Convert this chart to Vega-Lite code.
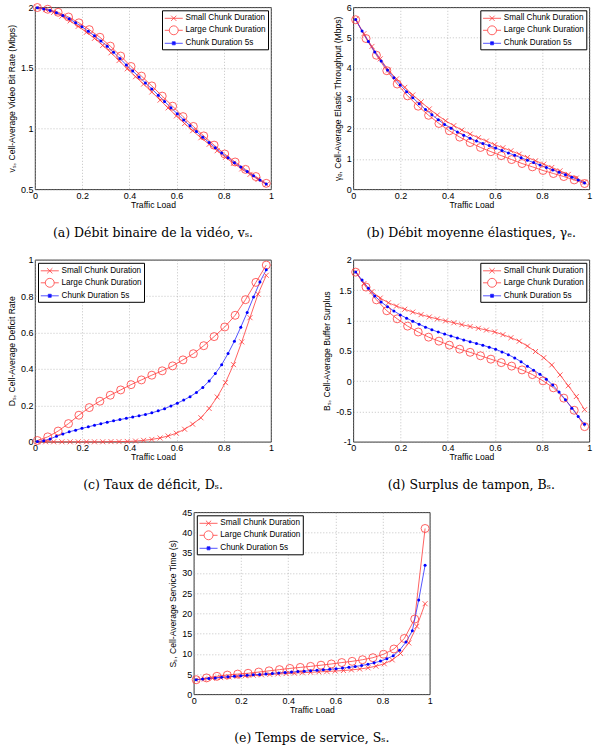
{
  "$schema": "https://vega.github.io/schema/vega-lite/v6.json",
  "padding": {"left": 7, "top": 1.3, "right": 0, "bottom": 0},
  "background": "white",
  "datasets": {
    "aS": [{"x":0.010,"y":1.996},{"x":0.045,"y":1.981},{"x":0.079,"y":1.958},{"x":0.114,"y":1.927},{"x":0.149,"y":1.888},{"x":0.183,"y":1.843},{"x":0.218,"y":1.794},{"x":0.252,"y":1.744},{"x":0.287,"y":1.686},{"x":0.322,"y":1.625},{"x":0.356,"y":1.561},{"x":0.391,"y":1.493},{"x":0.426,"y":1.428},{"x":0.460,"y":1.367},{"x":0.495,"y":1.302},{"x":0.530,"y":1.235},{"x":0.564,"y":1.171},{"x":0.599,"y":1.105},{"x":0.634,"y":1.042},{"x":0.668,"y":0.983},{"x":0.703,"y":0.925},{"x":0.738,"y":0.871},{"x":0.772,"y":0.818},{"x":0.807,"y":0.763},{"x":0.841,"y":0.714},{"x":0.876,"y":0.668},{"x":0.911,"y":0.623},{"x":0.945,"y":0.581},{"x":0.980,"y":0.539}],
    "aL": [{"x":0.010,"y":1.998},{"x":0.054,"y":1.984},{"x":0.098,"y":1.959},{"x":0.142,"y":1.920},{"x":0.186,"y":1.872},{"x":0.230,"y":1.816},{"x":0.275,"y":1.753},{"x":0.319,"y":1.680},{"x":0.363,"y":1.598},{"x":0.407,"y":1.512},{"x":0.451,"y":1.433},{"x":0.495,"y":1.352},{"x":0.539,"y":1.268},{"x":0.583,"y":1.185},{"x":0.627,"y":1.099},{"x":0.671,"y":1.018},{"x":0.715,"y":0.940},{"x":0.759,"y":0.864},{"x":0.804,"y":0.791},{"x":0.848,"y":0.725},{"x":0.892,"y":0.664},{"x":0.936,"y":0.605},{"x":0.980,"y":0.549}],
    "aM": [{"x":0.010,"y":1.997},{"x":0.037,"y":1.987},{"x":0.064,"y":1.974},{"x":0.091,"y":1.956},{"x":0.118,"y":1.932},{"x":0.145,"y":1.905},{"x":0.172,"y":1.873},{"x":0.199,"y":1.839},{"x":0.226,"y":1.802},{"x":0.252,"y":1.765},{"x":0.279,"y":1.723},{"x":0.306,"y":1.679},{"x":0.333,"y":1.629},{"x":0.360,"y":1.578},{"x":0.387,"y":1.525},{"x":0.414,"y":1.475},{"x":0.441,"y":1.426},{"x":0.468,"y":1.377},{"x":0.495,"y":1.327},{"x":0.522,"y":1.276},{"x":0.549,"y":1.224},{"x":0.576,"y":1.173},{"x":0.603,"y":1.122},{"x":0.630,"y":1.072},{"x":0.657,"y":1.023},{"x":0.684,"y":0.976},{"x":0.711,"y":0.930},{"x":0.738,"y":0.885},{"x":0.764,"y":0.843},{"x":0.791,"y":0.799},{"x":0.818,"y":0.759},{"x":0.845,"y":0.719},{"x":0.872,"y":0.683},{"x":0.899,"y":0.646},{"x":0.926,"y":0.611},{"x":0.953,"y":0.576},{"x":0.980,"y":0.544}],
    "bS": [{"x":0.010,"y":5.60},{"x":0.045,"y":5.13},{"x":0.079,"y":4.71},{"x":0.114,"y":4.30},{"x":0.149,"y":3.93},{"x":0.183,"y":3.64},{"x":0.218,"y":3.36},{"x":0.252,"y":3.11},{"x":0.287,"y":2.88},{"x":0.322,"y":2.65},{"x":0.356,"y":2.45},{"x":0.391,"y":2.26},{"x":0.426,"y":2.10},{"x":0.460,"y":1.95},{"x":0.495,"y":1.82},{"x":0.530,"y":1.70},{"x":0.564,"y":1.59},{"x":0.599,"y":1.47},{"x":0.634,"y":1.37},{"x":0.668,"y":1.27},{"x":0.703,"y":1.16},{"x":0.738,"y":1.05},{"x":0.772,"y":0.94},{"x":0.807,"y":0.83},{"x":0.841,"y":0.72},{"x":0.876,"y":0.61},{"x":0.911,"y":0.49},{"x":0.945,"y":0.37},{"x":0.980,"y":0.24}],
    "bL": [{"x":0.010,"y":5.59},{"x":0.054,"y":4.97},{"x":0.098,"y":4.42},{"x":0.142,"y":3.91},{"x":0.186,"y":3.47},{"x":0.230,"y":3.08},{"x":0.275,"y":2.74},{"x":0.319,"y":2.44},{"x":0.363,"y":2.17},{"x":0.407,"y":1.93},{"x":0.451,"y":1.72},{"x":0.495,"y":1.54},{"x":0.539,"y":1.38},{"x":0.583,"y":1.24},{"x":0.627,"y":1.11},{"x":0.671,"y":0.98},{"x":0.715,"y":0.85},{"x":0.759,"y":0.74},{"x":0.804,"y":0.62},{"x":0.848,"y":0.52},{"x":0.892,"y":0.42},{"x":0.936,"y":0.31},{"x":0.980,"y":0.19}],
    "bM": [{"x":0.010,"y":5.60},{"x":0.037,"y":5.22},{"x":0.064,"y":4.87},{"x":0.091,"y":4.53},{"x":0.118,"y":4.23},{"x":0.145,"y":3.93},{"x":0.172,"y":3.68},{"x":0.199,"y":3.44},{"x":0.226,"y":3.22},{"x":0.252,"y":3.02},{"x":0.279,"y":2.82},{"x":0.306,"y":2.63},{"x":0.333,"y":2.46},{"x":0.360,"y":2.29},{"x":0.387,"y":2.14},{"x":0.414,"y":2.01},{"x":0.441,"y":1.89},{"x":0.468,"y":1.78},{"x":0.495,"y":1.68},{"x":0.522,"y":1.59},{"x":0.549,"y":1.51},{"x":0.576,"y":1.44},{"x":0.603,"y":1.36},{"x":0.630,"y":1.28},{"x":0.657,"y":1.20},{"x":0.684,"y":1.12},{"x":0.711,"y":1.04},{"x":0.738,"y":0.96},{"x":0.764,"y":0.88},{"x":0.791,"y":0.80},{"x":0.818,"y":0.72},{"x":0.845,"y":0.64},{"x":0.872,"y":0.56},{"x":0.899,"y":0.48},{"x":0.926,"y":0.40},{"x":0.953,"y":0.31},{"x":0.980,"y":0.21}],
    "cS": [{"x":0.010,"y":0},{"x":0.045,"y":0},{"x":0.079,"y":0},{"x":0.114,"y":0},{"x":0.149,"y":0},{"x":0.183,"y":0},{"x":0.218,"y":0},{"x":0.252,"y":0},{"x":0.287,"y":0},{"x":0.322,"y":0.001},{"x":0.356,"y":0.001},{"x":0.391,"y":0.002},{"x":0.426,"y":0.004},{"x":0.460,"y":0.008},{"x":0.495,"y":0.013},{"x":0.530,"y":0.021},{"x":0.564,"y":0.032},{"x":0.599,"y":0.047},{"x":0.634,"y":0.069},{"x":0.668,"y":0.097},{"x":0.703,"y":0.132},{"x":0.738,"y":0.183},{"x":0.772,"y":0.246},{"x":0.807,"y":0.325},{"x":0.841,"y":0.424},{"x":0.876,"y":0.549},{"x":0.911,"y":0.682},{"x":0.945,"y":0.811},{"x":0.980,"y":0.915}],
    "cL": [{"x":0.010,"y":0.007},{"x":0.054,"y":0.027},{"x":0.098,"y":0.059},{"x":0.142,"y":0.100},{"x":0.186,"y":0.146},{"x":0.230,"y":0.188},{"x":0.275,"y":0.223},{"x":0.319,"y":0.256},{"x":0.363,"y":0.285},{"x":0.407,"y":0.314},{"x":0.451,"y":0.340},{"x":0.495,"y":0.366},{"x":0.539,"y":0.390},{"x":0.583,"y":0.417},{"x":0.627,"y":0.450},{"x":0.671,"y":0.484},{"x":0.715,"y":0.528},{"x":0.759,"y":0.578},{"x":0.804,"y":0.631},{"x":0.848,"y":0.695},{"x":0.892,"y":0.781},{"x":0.936,"y":0.876},{"x":0.980,"y":0.971}],
    "cM": [{"x":0.010,"y":0.001},{"x":0.037,"y":0.006},{"x":0.064,"y":0.016},{"x":0.091,"y":0.030},{"x":0.118,"y":0.043},{"x":0.145,"y":0.055},{"x":0.172,"y":0.064},{"x":0.199,"y":0.074},{"x":0.226,"y":0.082},{"x":0.252,"y":0.091},{"x":0.279,"y":0.099},{"x":0.306,"y":0.108},{"x":0.333,"y":0.115},{"x":0.360,"y":0.122},{"x":0.387,"y":0.129},{"x":0.414,"y":0.136},{"x":0.441,"y":0.143},{"x":0.468,"y":0.150},{"x":0.495,"y":0.159},{"x":0.522,"y":0.170},{"x":0.549,"y":0.182},{"x":0.576,"y":0.197},{"x":0.603,"y":0.212},{"x":0.630,"y":0.229},{"x":0.657,"y":0.248},{"x":0.684,"y":0.271},{"x":0.711,"y":0.299},{"x":0.738,"y":0.334},{"x":0.764,"y":0.375},{"x":0.791,"y":0.424},{"x":0.818,"y":0.485},{"x":0.845,"y":0.553},{"x":0.872,"y":0.630},{"x":0.899,"y":0.710},{"x":0.926,"y":0.795},{"x":0.953,"y":0.878},{"x":0.980,"y":0.945}],
    "dS": [{"x":0.010,"y":1.800},{"x":0.045,"y":1.608},{"x":0.079,"y":1.476},{"x":0.114,"y":1.369},{"x":0.149,"y":1.292},{"x":0.183,"y":1.237},{"x":0.218,"y":1.185},{"x":0.252,"y":1.138},{"x":0.287,"y":1.096},{"x":0.322,"y":1.058},{"x":0.356,"y":1.025},{"x":0.391,"y":0.993},{"x":0.426,"y":0.962},{"x":0.460,"y":0.931},{"x":0.495,"y":0.900},{"x":0.530,"y":0.871},{"x":0.564,"y":0.842},{"x":0.599,"y":0.811},{"x":0.634,"y":0.766},{"x":0.668,"y":0.716},{"x":0.703,"y":0.658},{"x":0.738,"y":0.578},{"x":0.772,"y":0.488},{"x":0.807,"y":0.386},{"x":0.841,"y":0.267},{"x":0.876,"y":0.102},{"x":0.911,"y":-0.077},{"x":0.945,"y":-0.254},{"x":0.980,"y":-0.470}],
    "dL": [{"x":0.010,"y":1.797},{"x":0.054,"y":1.550},{"x":0.098,"y":1.340},{"x":0.142,"y":1.160},{"x":0.186,"y":1.027},{"x":0.230,"y":0.907},{"x":0.275,"y":0.810},{"x":0.319,"y":0.725},{"x":0.363,"y":0.659},{"x":0.407,"y":0.593},{"x":0.451,"y":0.527},{"x":0.495,"y":0.475},{"x":0.539,"y":0.418},{"x":0.583,"y":0.362},{"x":0.627,"y":0.305},{"x":0.671,"y":0.248},{"x":0.715,"y":0.185},{"x":0.759,"y":0.108},{"x":0.804,"y":0.005},{"x":0.848,"y":-0.110},{"x":0.892,"y":-0.280},{"x":0.936,"y":-0.480},{"x":0.980,"y":-0.750}],
    "dM": [{"x":0.010,"y":1.800},{"x":0.037,"y":1.665},{"x":0.064,"y":1.533},{"x":0.091,"y":1.403},{"x":0.118,"y":1.306},{"x":0.145,"y":1.225},{"x":0.172,"y":1.157},{"x":0.199,"y":1.092},{"x":0.226,"y":1.038},{"x":0.252,"y":0.986},{"x":0.279,"y":0.938},{"x":0.306,"y":0.890},{"x":0.333,"y":0.847},{"x":0.360,"y":0.808},{"x":0.387,"y":0.776},{"x":0.414,"y":0.743},{"x":0.441,"y":0.711},{"x":0.468,"y":0.680},{"x":0.495,"y":0.650},{"x":0.522,"y":0.621},{"x":0.549,"y":0.591},{"x":0.576,"y":0.559},{"x":0.603,"y":0.525},{"x":0.630,"y":0.482},{"x":0.657,"y":0.436},{"x":0.684,"y":0.382},{"x":0.711,"y":0.320},{"x":0.738,"y":0.247},{"x":0.764,"y":0.180},{"x":0.791,"y":0.113},{"x":0.818,"y":0.029},{"x":0.845,"y":-0.063},{"x":0.872,"y":-0.181},{"x":0.899,"y":-0.305},{"x":0.926,"y":-0.445},{"x":0.953,"y":-0.584},{"x":0.980,"y":-0.710}],
    "eS": [{"x":0.010,"y":3.60},{"x":0.045,"y":3.78},{"x":0.079,"y":3.95},{"x":0.114,"y":4.12},{"x":0.149,"y":4.30},{"x":0.183,"y":4.43},{"x":0.218,"y":4.57},{"x":0.252,"y":4.71},{"x":0.287,"y":4.81},{"x":0.322,"y":4.92},{"x":0.356,"y":5.02},{"x":0.391,"y":5.12},{"x":0.426,"y":5.23},{"x":0.460,"y":5.33},{"x":0.495,"y":5.44},{"x":0.530,"y":5.54},{"x":0.564,"y":5.64},{"x":0.599,"y":5.75},{"x":0.634,"y":5.88},{"x":0.668,"y":6.03},{"x":0.703,"y":6.25},{"x":0.738,"y":6.55},{"x":0.772,"y":6.95},{"x":0.807,"y":7.55},{"x":0.841,"y":8.50},{"x":0.876,"y":10.1},{"x":0.911,"y":12.7},{"x":0.945,"y":16.8},{"x":0.980,"y":22.4}],
    "eL": [{"x":0.010,"y":3.60},{"x":0.054,"y":4.05},{"x":0.098,"y":4.45},{"x":0.142,"y":4.75},{"x":0.186,"y":5.00},{"x":0.230,"y":5.20},{"x":0.275,"y":5.50},{"x":0.319,"y":5.80},{"x":0.363,"y":6.10},{"x":0.407,"y":6.40},{"x":0.451,"y":6.65},{"x":0.495,"y":6.90},{"x":0.539,"y":7.20},{"x":0.583,"y":7.50},{"x":0.627,"y":7.85},{"x":0.671,"y":8.15},{"x":0.715,"y":8.55},{"x":0.759,"y":9.05},{"x":0.804,"y":9.90},{"x":0.848,"y":11.2},{"x":0.892,"y":13.8},{"x":0.936,"y":18.6},{"x":0.980,"y":41.0}],
    "eM": [{"x":0.010,"y":3.60},{"x":0.037,"y":3.77},{"x":0.064,"y":3.92},{"x":0.091,"y":4.06},{"x":0.118,"y":4.19},{"x":0.145,"y":4.33},{"x":0.172,"y":4.46},{"x":0.199,"y":4.60},{"x":0.226,"y":4.70},{"x":0.252,"y":4.81},{"x":0.279,"y":4.92},{"x":0.306,"y":5.03},{"x":0.333,"y":5.17},{"x":0.360,"y":5.29},{"x":0.387,"y":5.40},{"x":0.414,"y":5.51},{"x":0.441,"y":5.61},{"x":0.468,"y":5.72},{"x":0.495,"y":5.83},{"x":0.522,"y":5.94},{"x":0.549,"y":6.05},{"x":0.576,"y":6.18},{"x":0.603,"y":6.32},{"x":0.630,"y":6.48},{"x":0.657,"y":6.66},{"x":0.684,"y":6.87},{"x":0.711,"y":7.12},{"x":0.738,"y":7.42},{"x":0.764,"y":7.77},{"x":0.791,"y":8.21},{"x":0.818,"y":8.82},{"x":0.845,"y":9.52},{"x":0.872,"y":10.9},{"x":0.899,"y":12.9},{"x":0.926,"y":15.7},{"x":0.953,"y":23.3},{"x":0.980,"y":31.9}]
  },
  "vconcat": [
    {
      "hconcat": [
        {
          "width": 236, "height": 182,
          "title": {"text": "(a) Débit binaire de la vidéo, vₛ."},
          "encoding": {
            "x": {"field": "x", "type": "quantitative", "scale": {"domain": [0, 1], "nice": false}, "axis": {"values": [0, 0.2, 0.4, 0.6, 0.8, 1], "title": "Traffic Load"}},
            "y": {"field": "y", "type": "quantitative", "scale": {"domain": [0.5, 2], "nice": false, "zero": false}, "axis": {"values": [0.5, 1, 1.5, 2], "title": "vₛ, Cell-Average Video Bit Rate (Mbps)"}}
          },
          "layer": [
            {"data": {"name": "aS"}, "mark": {"type": "line", "strokeWidth": 0.8}, "encoding": {"color": {"datum": "Small Chunk Duration", "type": "nominal", "scale": {"domain": ["Small Chunk Duration", "Large Chunk Duration", "Chunk Duration 5s"], "range": ["#ff3b3b", "#ff3b3b", "#2a2aff"]}, "legend": {"title": null, "orient": "top-right", "encode": {"symbols": {"update": {"shape": {"signal": "datum.value === 'Small Chunk Duration' ? 'M-1,0L2.432,0M0.216,-0.5L1.216,0.5M0.216,0.5L1.216,-0.5' : datum.value === 'Large Chunk Duration' ? 'M-1,0L-0.134,0A0.85,0.85,0,1,1,1.566,0L2.432,0M1.566,0A0.85,0.85,0,1,1,-0.134,0' : 'M-1,0L2.432,0M0.43,-0.29L1.0,-0.29L1.0,0.29L0.43,0.29Z'"}, "fill": {"signal": "datum.value === 'Chunk Duration 5s' ? '#0000ff' : 'transparent'"}, "strokeWidth": {"value": 0.8}, "opacity": {"value": 1}}}}}}}},
            {"data": {"name": "aL"}, "mark": {"type": "line", "strokeWidth": 0.8}, "encoding": {"color": {"datum": "Large Chunk Duration", "type": "nominal"}}},
            {"data": {"name": "aM"}, "mark": {"type": "line", "strokeWidth": 0.8}, "encoding": {"color": {"datum": "Chunk Duration 5s", "type": "nominal"}}},
            {"data": {"name": "aS"}, "mark": {"type": "point", "shape": "M-1,-1L1,1M-1,1L1,-1", "size": 25, "filled": false, "stroke": "#ff3b3b", "strokeWidth": 0.8, "opacity": 1}},
            {"data": {"name": "aL"}, "mark": {"type": "point", "shape": "circle", "size": 64, "filled": false, "stroke": "#ff3b3b", "strokeWidth": 0.8, "opacity": 1}},
            {"data": {"name": "aM"}, "mark": {"type": "point", "shape": "circle", "size": 9, "filled": true, "fill": "#0000ff", "opacity": 1}}
          ]
        },
        {
          "width": 236, "height": 182,
          "title": {"text": "(b) Débit moyenne élastiques, γₑ."},
          "encoding": {
            "x": {"field": "x", "type": "quantitative", "scale": {"domain": [0, 1], "nice": false}, "axis": {"values": [0, 0.2, 0.4, 0.6, 0.8, 1], "title": "Traffic Load"}},
            "y": {"field": "y", "type": "quantitative", "scale": {"domain": [0, 6], "nice": false}, "axis": {"values": [0, 1, 2, 3, 4, 5, 6], "title": "γₑ, Cell-Average Elastic Throughput (Mbps)"}}
          },
          "layer": [
            {"data": {"name": "bS"}, "mark": {"type": "line", "strokeWidth": 0.8}, "encoding": {"color": {"datum": "Small Chunk Duration", "type": "nominal", "scale": {"domain": ["Small Chunk Duration", "Large Chunk Duration", "Chunk Duration 5s"], "range": ["#ff3b3b", "#ff3b3b", "#2a2aff"]}, "legend": {"title": null, "orient": "top-right", "encode": {"symbols": {"update": {"shape": {"signal": "datum.value === 'Small Chunk Duration' ? 'M-1,0L2.432,0M0.216,-0.5L1.216,0.5M0.216,0.5L1.216,-0.5' : datum.value === 'Large Chunk Duration' ? 'M-1,0L-0.134,0A0.85,0.85,0,1,1,1.566,0L2.432,0M1.566,0A0.85,0.85,0,1,1,-0.134,0' : 'M-1,0L2.432,0M0.43,-0.29L1.0,-0.29L1.0,0.29L0.43,0.29Z'"}, "fill": {"signal": "datum.value === 'Chunk Duration 5s' ? '#0000ff' : 'transparent'"}, "strokeWidth": {"value": 0.8}, "opacity": {"value": 1}}}}}}}},
            {"data": {"name": "bL"}, "mark": {"type": "line", "strokeWidth": 0.8}, "encoding": {"color": {"datum": "Large Chunk Duration", "type": "nominal"}}},
            {"data": {"name": "bM"}, "mark": {"type": "line", "strokeWidth": 0.8}, "encoding": {"color": {"datum": "Chunk Duration 5s", "type": "nominal"}}},
            {"data": {"name": "bS"}, "mark": {"type": "point", "shape": "M-1,-1L1,1M-1,1L1,-1", "size": 25, "filled": false, "stroke": "#ff3b3b", "strokeWidth": 0.8, "opacity": 1}},
            {"data": {"name": "bL"}, "mark": {"type": "point", "shape": "circle", "size": 64, "filled": false, "stroke": "#ff3b3b", "strokeWidth": 0.8, "opacity": 1}},
            {"data": {"name": "bM"}, "mark": {"type": "point", "shape": "circle", "size": 9, "filled": true, "fill": "#0000ff", "opacity": 1}}
          ]
        }
      ],
      "spacing": 82.3,
      "bounds": "flush",
      "resolve": {"scale": {"x": "independent", "y": "independent", "color": "independent"}, "legend": {"color": "independent"}}
    },
    {
      "hconcat": [
        {
          "width": 236, "height": 182,
          "title": {"text": "(c) Taux de déficit, Dₛ."},
          "encoding": {
            "x": {"field": "x", "type": "quantitative", "scale": {"domain": [0, 1], "nice": false}, "axis": {"values": [0, 0.2, 0.4, 0.6, 0.8, 1], "title": "Traffic Load"}},
            "y": {"field": "y", "type": "quantitative", "scale": {"domain": [0, 1], "nice": false}, "axis": {"values": [0, 0.2, 0.4, 0.6, 0.8, 1], "title": "Dₛ, Cell-Average Deficit Rate"}}
          },
          "layer": [
            {"data": {"name": "cS"}, "mark": {"type": "line", "strokeWidth": 0.8}, "encoding": {"color": {"datum": "Small Chunk Duration", "type": "nominal", "scale": {"domain": ["Small Chunk Duration", "Large Chunk Duration", "Chunk Duration 5s"], "range": ["#ff3b3b", "#ff3b3b", "#2a2aff"]}, "legend": {"title": null, "orient": "top-left", "encode": {"symbols": {"update": {"shape": {"signal": "datum.value === 'Small Chunk Duration' ? 'M-1,0L2.432,0M0.216,-0.5L1.216,0.5M0.216,0.5L1.216,-0.5' : datum.value === 'Large Chunk Duration' ? 'M-1,0L-0.134,0A0.85,0.85,0,1,1,1.566,0L2.432,0M1.566,0A0.85,0.85,0,1,1,-0.134,0' : 'M-1,0L2.432,0M0.43,-0.29L1.0,-0.29L1.0,0.29L0.43,0.29Z'"}, "fill": {"signal": "datum.value === 'Chunk Duration 5s' ? '#0000ff' : 'transparent'"}, "strokeWidth": {"value": 0.8}, "opacity": {"value": 1}}}}}}}},
            {"data": {"name": "cL"}, "mark": {"type": "line", "strokeWidth": 0.8}, "encoding": {"color": {"datum": "Large Chunk Duration", "type": "nominal"}}},
            {"data": {"name": "cM"}, "mark": {"type": "line", "strokeWidth": 0.8}, "encoding": {"color": {"datum": "Chunk Duration 5s", "type": "nominal"}}},
            {"data": {"name": "cS"}, "mark": {"type": "point", "shape": "M-1,-1L1,1M-1,1L1,-1", "size": 25, "filled": false, "stroke": "#ff3b3b", "strokeWidth": 0.8, "opacity": 1}},
            {"data": {"name": "cL"}, "mark": {"type": "point", "shape": "circle", "size": 64, "filled": false, "stroke": "#ff3b3b", "strokeWidth": 0.8, "opacity": 1}},
            {"data": {"name": "cM"}, "mark": {"type": "point", "shape": "circle", "size": 9, "filled": true, "fill": "#0000ff", "opacity": 1}}
          ]
        },
        {
          "width": 236, "height": 182,
          "title": {"text": "(d) Surplus de tampon, Bₛ."},
          "encoding": {
            "x": {"field": "x", "type": "quantitative", "scale": {"domain": [0, 1], "nice": false}, "axis": {"values": [0, 0.2, 0.4, 0.6, 0.8, 1], "title": "Traffic Load"}},
            "y": {"field": "y", "type": "quantitative", "scale": {"domain": [-1, 2], "nice": false, "zero": false}, "axis": {"values": [-1, -0.5, 0, 0.5, 1, 1.5, 2], "title": "Bₛ, Cell-Average Buffer Surplus"}}
          },
          "layer": [
            {"data": {"name": "dS"}, "mark": {"type": "line", "strokeWidth": 0.8}, "encoding": {"color": {"datum": "Small Chunk Duration", "type": "nominal", "scale": {"domain": ["Small Chunk Duration", "Large Chunk Duration", "Chunk Duration 5s"], "range": ["#ff3b3b", "#ff3b3b", "#2a2aff"]}, "legend": {"title": null, "orient": "top-right", "encode": {"symbols": {"update": {"shape": {"signal": "datum.value === 'Small Chunk Duration' ? 'M-1,0L2.432,0M0.216,-0.5L1.216,0.5M0.216,0.5L1.216,-0.5' : datum.value === 'Large Chunk Duration' ? 'M-1,0L-0.134,0A0.85,0.85,0,1,1,1.566,0L2.432,0M1.566,0A0.85,0.85,0,1,1,-0.134,0' : 'M-1,0L2.432,0M0.43,-0.29L1.0,-0.29L1.0,0.29L0.43,0.29Z'"}, "fill": {"signal": "datum.value === 'Chunk Duration 5s' ? '#0000ff' : 'transparent'"}, "strokeWidth": {"value": 0.8}, "opacity": {"value": 1}}}}}}}},
            {"data": {"name": "dL"}, "mark": {"type": "line", "strokeWidth": 0.8}, "encoding": {"color": {"datum": "Large Chunk Duration", "type": "nominal"}}},
            {"data": {"name": "dM"}, "mark": {"type": "line", "strokeWidth": 0.8}, "encoding": {"color": {"datum": "Chunk Duration 5s", "type": "nominal"}}},
            {"data": {"name": "dS"}, "mark": {"type": "point", "shape": "M-1,-1L1,1M-1,1L1,-1", "size": 25, "filled": false, "stroke": "#ff3b3b", "strokeWidth": 0.8, "opacity": 1}},
            {"data": {"name": "dL"}, "mark": {"type": "point", "shape": "circle", "size": 64, "filled": false, "stroke": "#ff3b3b", "strokeWidth": 0.8, "opacity": 1}},
            {"data": {"name": "dM"}, "mark": {"type": "point", "shape": "circle", "size": 9, "filled": true, "fill": "#0000ff", "opacity": 1}}
          ]
        }
      ],
      "spacing": 82.3,
      "bounds": "flush",
      "resolve": {"scale": {"x": "independent", "y": "independent", "color": "independent"}, "legend": {"color": "independent"}}
    },
    {
      "hconcat": [
        {"width": 100, "height": 182, "view": {"stroke": null}, "data": {"values": []}, "mark": "point"},
        {
          "width": 236, "height": 182,
          "title": {"text": "(e) Temps de service, Sₛ."},
          "encoding": {
            "x": {"field": "x", "type": "quantitative", "scale": {"domain": [0, 1], "nice": false}, "axis": {"values": [0, 0.2, 0.4, 0.6, 0.8, 1], "title": "Traffic Load"}},
            "y": {"field": "y", "type": "quantitative", "scale": {"domain": [0, 45], "nice": false}, "axis": {"values": [0, 5, 10, 15, 20, 25, 30, 35, 40, 45], "title": "Sₛ, Cell-Average Service Time (s)"}}
          },
          "layer": [
            {"data": {"name": "eS"}, "mark": {"type": "line", "strokeWidth": 0.8}, "encoding": {"color": {"datum": "Small Chunk Duration", "type": "nominal", "scale": {"domain": ["Small Chunk Duration", "Large Chunk Duration", "Chunk Duration 5s"], "range": ["#ff3b3b", "#ff3b3b", "#2a2aff"]}, "legend": {"title": null, "orient": "top-left", "encode": {"symbols": {"update": {"shape": {"signal": "datum.value === 'Small Chunk Duration' ? 'M-1,0L2.432,0M0.216,-0.5L1.216,0.5M0.216,0.5L1.216,-0.5' : datum.value === 'Large Chunk Duration' ? 'M-1,0L-0.134,0A0.85,0.85,0,1,1,1.566,0L2.432,0M1.566,0A0.85,0.85,0,1,1,-0.134,0' : 'M-1,0L2.432,0M0.43,-0.29L1.0,-0.29L1.0,0.29L0.43,0.29Z'"}, "fill": {"signal": "datum.value === 'Chunk Duration 5s' ? '#0000ff' : 'transparent'"}, "strokeWidth": {"value": 0.8}, "opacity": {"value": 1}}}}}}}},
            {"data": {"name": "eL"}, "mark": {"type": "line", "strokeWidth": 0.8}, "encoding": {"color": {"datum": "Large Chunk Duration", "type": "nominal"}}},
            {"data": {"name": "eM"}, "mark": {"type": "line", "strokeWidth": 0.8}, "encoding": {"color": {"datum": "Chunk Duration 5s", "type": "nominal"}}},
            {"data": {"name": "eS"}, "mark": {"type": "point", "shape": "M-1,-1L1,1M-1,1L1,-1", "size": 25, "filled": false, "stroke": "#ff3b3b", "strokeWidth": 0.8, "opacity": 1}},
            {"data": {"name": "eL"}, "mark": {"type": "point", "shape": "circle", "size": 64, "filled": false, "stroke": "#ff3b3b", "strokeWidth": 0.8, "opacity": 1}},
            {"data": {"name": "eM"}, "mark": {"type": "point", "shape": "circle", "size": 9, "filled": true, "fill": "#0000ff", "opacity": 1}}
          ]
        }
      ],
      "spacing": 58.8,
      "bounds": "flush",
      "resolve": {"scale": {"x": "independent", "y": "independent", "color": "independent"}, "legend": {"color": "independent"}}
    }
  ],
  "spacing": 14.5,
  "resolve": {"scale": {"x": "independent", "y": "independent", "color": "independent"}, "legend": {"color": "independent"}},
  "config": {
    "font": "Liberation Sans",
    "locale": {"number": {"decimal": ".", "thousands": ",", "grouping": [3], "currency": ["$", ""], "minus": "-"}},
    "view": {"stroke": "#000000", "strokeWidth": 0.8},
    "axis": {
      "domain": false, "ticks": false, "format": "~g",
      "labelFont": "Liberation Sans", "labelFontSize": 9, "labelColor": "#000000", "labelPadding": 2,
      "labelFlush": false, "labelOverlap": false,
      "titleFont": "Liberation Sans", "titleFontSize": 8.6, "titleFontWeight": "normal", "titleColor": "#000000",
      "gridColor": "#9a9a9a", "gridDash": [1, 2], "gridWidth": 0.6
    },
    "axisX": {"titlePadding": 0},
    "axisY": {"titlePadding": 4},
    "legend": {
      "offset": 3, "padding": 2, "strokeColor": "#000000", "fillColor": "#ffffff",
      "labelFont": "Liberation Sans", "labelFontSize": 8.2, "labelColor": "#000000",
      "symbolSize": 110, "symbolStrokeWidth": 0.8, "rowPadding": 0, "labelOffset": 9.5, "symbolType": "stroke"
    },
    "title": {"font": "DejaVu Serif", "fontSize": 12.5, "fontWeight": "normal", "color": "#000000", "orient": "bottom", "anchor": "middle", "frame": "group", "offset": 18}
  }
}
